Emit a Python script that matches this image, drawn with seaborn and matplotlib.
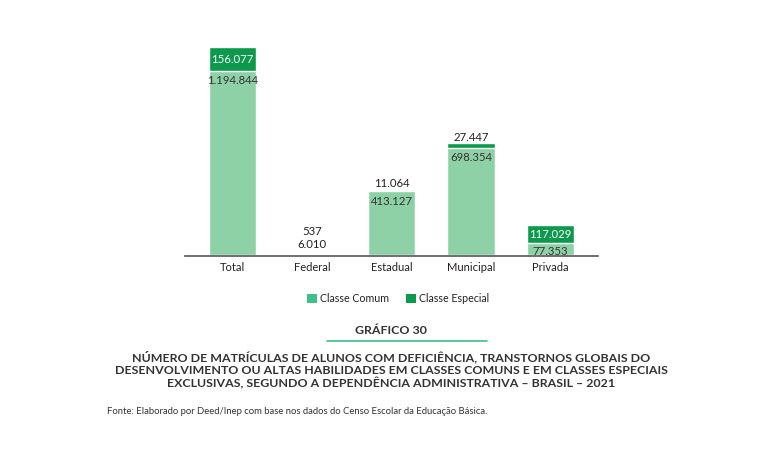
import matplotlib
matplotlib.use("Agg")
import matplotlib.pyplot as plt
import seaborn as sns
import pandas as pd
from matplotlib.patches import Patch
from matplotlib.lines import Line2D

categories = ["Total", "Federal", "Estadual", "Municipal", "Privada"]
comum = [1194844, 6010, 413127, 698354, 77353]
especial = [156077, 537, 11064, 27447, 117029]

def fmt(v):
    return f"{v:,}".replace(",", ".")

sns.set_theme(style="white")
plt.rcParams["font.family"] = ["Lato", "DejaVu Sans"]

C_COMUM = "#8fd1a6"
C_ESP = "#0b9a4c"
C_LEG_COMUM = "#3fbf8b"

fig = plt.figure(figsize=(7.82, 4.49), dpi=100)
ax = fig.add_axes([185/782, 1 - 256/449, 413/782, 216/449])

df = pd.DataFrame({"cat": categories, "comum": comum, "especial": especial})
df["total"] = df["comum"] + df["especial"]

sns.barplot(data=df, x="cat", y="total", color=C_ESP, saturation=1, width=0.6, ax=ax)
sns.barplot(data=df, x="cat", y="comum", color=C_COMUM, saturation=1, width=0.6, ax=ax)

ax.set_xlim(-0.6, 4.6)
ax.set_ylim(-6000, 1396880)
for s in ["left", "right", "top"]:
    ax.spines[s].set_visible(False)
ax.spines["bottom"].set_color("#555555")
ax.spines["bottom"].set_linewidth(1.2)
ax.spines["bottom"].set_position(("data", -6000))
ax.set_yticks([])
ax.set_xlabel("")
ax.set_ylabel("")
ax.tick_params(axis="x", length=0, labelsize=8, colors="#222222", pad=4)

fs = 8.2
for i, (c, e) in enumerate(zip(comum, especial)):
    tot = c + e
    if i in (0, 4):
        ax.text(i, c + e / 2, fmt(e), ha="center", va="center", color="white", fontsize=fs)
        ax.annotate(fmt(c), (i, c), xytext=(0, -6 if i == 4 else -7), textcoords="offset points",
                    ha="center", va="center", color="#333333", fontsize=fs)
    elif i == 1:
        ax.annotate(fmt(c), (i, tot), xytext=(0, 7), textcoords="offset points",
                    ha="center", va="center", color="#222222", fontsize=fs)
        ax.annotate(fmt(e), (i, tot), xytext=(0, 16.5), textcoords="offset points",
                    ha="center", va="center", color="#222222", fontsize=fs)
    else:
        ax.annotate(fmt(e), (i, tot), xytext=(0, 4.5), textcoords="offset points",
                    ha="center", va="center", color="#222222", fontsize=fs)
        ax.annotate(fmt(c), (i, c), xytext=(0, -7), textcoords="offset points",
                    ha="center", va="center", color="#333333", fontsize=fs)

handles = [Patch(facecolor=C_LEG_COMUM, edgecolor="none", label="Classe Comum"),
           Patch(facecolor=C_ESP, edgecolor="none", label="Classe Especial")]
fig.legend(handles=handles, loc="center", bbox_to_anchor=(398/782, 1 - 299/449), ncol=2,
           frameon=False, fontsize=7.7, handlelength=0.9, handleheight=0.9,
           handletextpad=0.3, columnspacing=1.6, labelcolor="#222222")

fig.text(391/782, 1 - 330/449, "GRÁFICO 30", ha="center", va="center",
         fontsize=8.9, fontweight="bold", color="#333333")
fig.add_artist(Line2D([327/782, 487/782], [1 - 341/449, 1 - 341/449], color="#3fbf8b", linewidth=1.2))
title = ("NÚMERO DE MATRÍCULAS DE ALUNOS COM DEFICIÊNCIA, TRANSTORNOS GLOBAIS DO\n"
         "DESENVOLVIMENTO OU ALTAS HABILIDADES EM CLASSES COMUNS E EM CLASSES ESPECIAIS\n"
         "EXCLUSIVAS, SEGUNDO A DEPENDÊNCIA ADMINISTRATIVA – BRASIL – 2021")
fig.text(391/782, 1 - 370/449, title, ha="center", va="center", fontsize=8.9,
         fontweight="bold", color="#333333", linespacing=1.17)
fig.text(107/782, 1 - 411/449, "Fonte: Elaborado por Deed/Inep com base nos dados do Censo Escolar da Educação Básica.",
         ha="left", va="center", fontsize=6.8, color="#333333")

fig.savefig("out.png", dpi=100, facecolor="white")
